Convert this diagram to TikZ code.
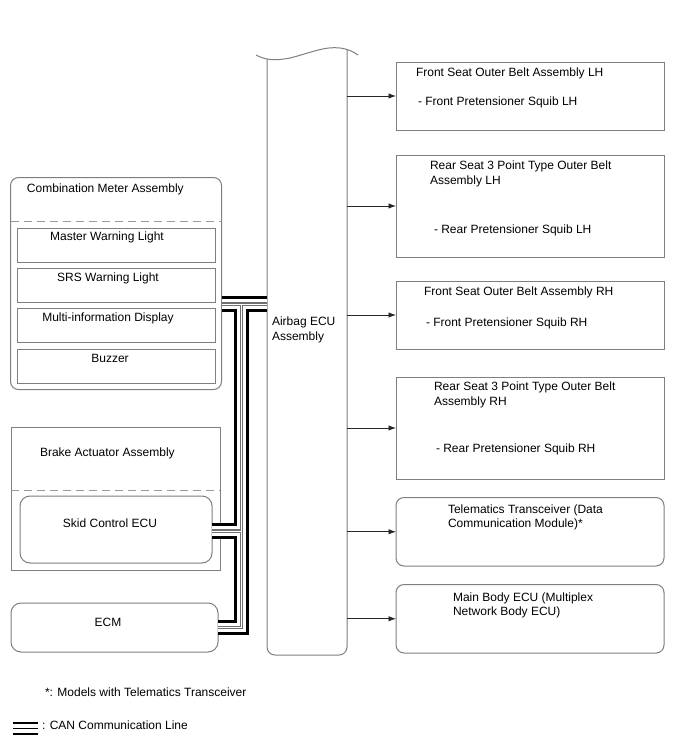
\documentclass[tikz,border=0pt]{standalone}
\usepackage{fontspec}
\setmainfont{Liberation Sans}
\usetikzlibrary{arrows.meta}
\definecolor{edge}{HTML}{7F7F7F}
\definecolor{dashc}{HTML}{9A9A9A}
\definecolor{midc}{HTML}{707070}
\newcommand\canroute[1]{%
  \draw[#1] (cm.east |- busT) -- (ecuL |- busT);
  \draw[#1] (skid.east |- busS) -- (busS);
  \draw[#1] (ecm.east |- busE) -- (busE) -- (busT);}
\begin{document}
\begin{tikzpicture}[x=1pt,y=-1pt,
  every node/.style={font=\fontsize{12pt}{14pt}\selectfont, inner sep=0pt, outer sep=0pt},
  box/.style={draw=edge, line width=1pt, anchor=north west},
  rbox/.style={box, rounded corners=8pt},
  txt/.style={anchor=base west},
  ctxt/.style={anchor=base},
  arr/.style={draw=black!85, line width=0.9pt, -{Latex[length=7.5pt,width=5.5pt]}},
  dashln/.style={draw=dashc, line width=1pt, dash pattern=on 8pt off 5pt}]
\useasboundingbox[fill=white] (0,0) rectangle (688,755);

% ---------- Combination meter ----------
\node[rbox, minimum width=211pt, minimum height=212pt] (cm) at (10.5,177.5) {};
\draw[dashln] (10.5,221.5) -- (221.5,221.5);
\node[txt] (cmt) at (27,192.3) {Combination Meter Assembly};
\node[box, minimum width=198pt, minimum height=34pt] (mwl) at (17,228) {};
\node[box, minimum width=198pt, minimum height=34pt] (srs) at (17,268) {};
\node[box, minimum width=198pt, minimum height=34pt] (mid) at (17,308.5) {};
\node[box, minimum width=198pt, minimum height=34pt] (buz) at (17,349) {};
\node[ctxt] (mwlt) at (107,240.3) {Master Warning Light};
\node[ctxt] (srst) at (108,281.3) {SRS Warning Light};
\node[ctxt] (midt) at (108,321.3) {Multi-information Display};
\node[ctxt] (buzt) at (110,362.3) {Buzzer};

% ---------- Brake actuator ----------
\node[box, minimum width=209pt, minimum height=143pt] (brk) at (11,427) {};
\draw[dashln] (11,490) -- (220,490);
\node[txt] (brkt) at (40,456.3) {Brake Actuator Assembly};
\node[box, rounded corners=10pt, minimum width=192pt, minimum height=67pt] (skid) at (20,496) {};
\node[ctxt] (skidt) at (110,527.3) {Skid Control ECU};

% ---------- ECM ----------
\node[box, rounded corners=10pt, minimum width=207pt, minimum height=49pt] (ecm) at (11,603) {};
\node[ctxt] (ecmt) at (108,626.3) {ECM};

% ---------- Airbag ECU ----------
\draw[edge, line width=1pt] (256,55) .. controls (265,60) and (275,61) .. (290,58)
  .. controls (310,53) and (325,46) .. (340,48) .. controls (348,49) and (354,52) .. (358,55);
\draw[edge, line width=1pt, rounded corners=8pt] (267,59) -- (267,655) -- (347,655) -- (347,49.5);
\coordinate (ecuL) at (267,0);
\coordinate (ecuR) at (347,0);
\node[txt] (ecut1) at (272,325.3) {Airbag ECU};
\node[txt] (ecut2) at (272,340.3) {Assembly};

% ---------- Right boxes ----------
\node[box, minimum width=268pt, minimum height=68pt] (b1) at (396,62) {};
\node[txt] (b1t1) at (416,76.3) {Front Seat Outer Belt Assembly LH};
\node[txt] (b1t2) at (418,105.3) {- Front Pretensioner Squib LH};

\node[box, minimum width=268pt, minimum height=102pt] (b2) at (396,155) {};
\node[txt] (b2t1) at (430,169.3) {Rear Seat 3 Point Type Outer Belt};
\node[txt] (b2t2) at (430,184.3) {Assembly LH};
\node[txt] (b2t3) at (434,233.3) {- Rear Pretensioner Squib LH};

\node[box, minimum width=268pt, minimum height=68pt] (b3) at (396,281) {};
\node[txt] (b3t1) at (424,295.3) {Front Seat Outer Belt Assembly RH};
\node[txt] (b3t2) at (426,326.3) {- Front Pretensioner Squib RH};

\node[box, minimum width=268pt, minimum height=102pt] (b4) at (396,377) {};
\node[txt] (b4t1) at (434,390.3) {Rear Seat 3 Point Type Outer Belt};
\node[txt] (b4t2) at (434,405.3) {Assembly RH};
\node[txt] (b4t3) at (436,452.3) {- Rear Pretensioner Squib RH};

\node[rbox, minimum width=268pt, minimum height=68.5pt] (b5) at (396,497.5) {};
\node[txt] (b5t1) at (448,513.3) {Telematics Transceiver (Data};
\node[txt] (b5t2) at (448,527.8) {Communication Module)*};

\node[rbox, minimum width=268pt, minimum height=68.5pt] (b6) at (396,584.5) {};
\node[txt] (b6t1) at (453,601) {Main Body ECU (Multiplex};
\node[txt] (b6t2) at (453,615.5) {Network Body ECU)};

\foreach \b in {b1,b2,b3,b4,b5,b6}
  \draw[arr] (ecuR |- \b.west) -- (\b.west);

% ---------- CAN bus ----------
\coordinate (busT) at (241.5,304);
\coordinate (busS) at (241.5,531);
\coordinate (busE) at (241.5,627.5);
\canroute{black, line width=15.5pt, line join=miter}
\canroute{white, line width=9.5pt, line join=miter}
\canroute{midc, line width=3.2pt, line join=miter}
\canroute{white, line width=1pt, line join=miter}

% ---------- Legend ----------
\node[txt] (note) at (45,696) {*: Models with Telematics Transceiver};
\draw[black, line width=2pt] (13,723) -- (38,723);
\draw[black, line width=1.2pt] (13,728.5) -- (38,728.5);
\draw[black, line width=2pt] (13,734) -- (38,734);
\node[txt] (leg) at (42,729) {: CAN Communication Line};
\end{tikzpicture}
\end{document}
